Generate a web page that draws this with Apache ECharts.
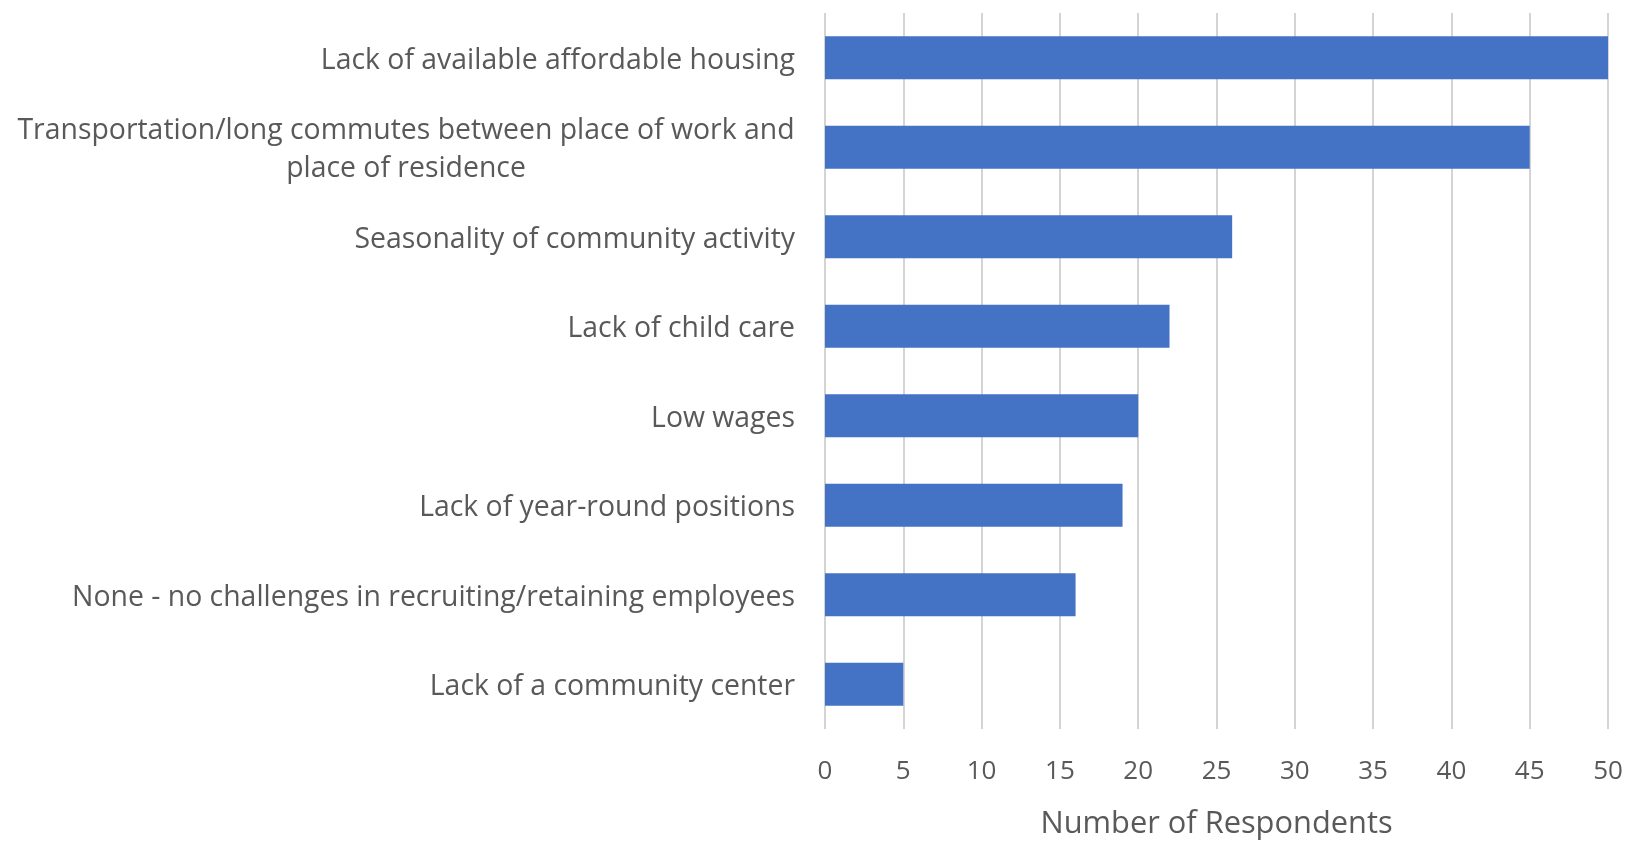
<!DOCTYPE html>
<html>
<head>
<meta charset="utf-8">
<style>
  html, body { margin: 0; padding: 0; background: #ffffff; }
  #chart { width: 1632px; height: 842px; }
</style>
<script src="https://cdn.jsdelivr.net/npm/echarts@6/dist/echarts.min.js"></script>
</head>
<body>
<div id="chart"></div>
<script>
// Challenges in recruiting/retaining employees (top to bottom)
const categories = [
  'Lack of available affordable housing',
  'Transportation/long commutes between place of work and\nplace of residence',
  'Seasonality of community activity',
  'Lack of child care',
  'Low wages',
  'Lack of year-round positions',
  'None - no challenges in recruiting/retaining employees',
  'Lack of a community center'
];
const respondents = [50, 45, 26, 22, 20, 19, 16, 5];
const axisTicks = [0, 5, 10, 15, 20, 25, 30, 35, 40, 45, 50];
const axisTitle = 'Number of Respondents';

const FONT = '"Open Sans", sans-serif';
const TEXT_COLOR = '#595959';
const LABEL_SIZE = 28.4;

// Width of the longest line of the wrapped label, so its lines centre on each other
function lineWidth(text, size) {
  const ctx = document.createElement('canvas').getContext('2d');
  ctx.font = size + 'px ' + FONT;
  return Math.ceil(ctx.measureText(text).width);
}

function draw() {
  const wrapWidth = Math.max.apply(null, categories
    .filter(c => c.indexOf('\n') >= 0)
    .map(c => Math.max.apply(null, c.split('\n').map(l => lineWidth(l, LABEL_SIZE)))));

  const chart = echarts.init(document.getElementById('chart'), null, { renderer: 'canvas' });
  chart.setOption({
    backgroundColor: '#ffffff',
    animation: false,
    grid: {
      left: 825, right: 24, top: 13, bottom: 113,
      containLabel: false,
      outerBoundsMode: 'none'
    },
    xAxis: {
      type: 'value',
      min: axisTicks[0],
      max: axisTicks[axisTicks.length - 1],
      interval: axisTicks[1] - axisTicks[0],
      name: axisTitle,
      nameLocation: 'middle',
      nameGap: 80,
      nameTextStyle: { fontFamily: FONT, fontSize: 30.8, color: TEXT_COLOR },
      axisLine: { show: false },
      axisTick: { show: false },
      axisLabel: { fontFamily: FONT, fontSize: 26, color: TEXT_COLOR, margin: 30 },
      splitLine: { show: true, lineStyle: { color: '#d4d4d4', width: 2 } }
    },
    yAxis: {
      type: 'category',
      data: categories,
      inverse: true,
      axisLine: { show: false },
      axisTick: { show: false },
      splitLine: { show: false },
      axisLabel: {
        fontFamily: FONT,
        fontSize: LABEL_SIZE,
        color: TEXT_COLOR,
        margin: 30,
        align: 'right',
        lineHeight: 38,
        padding: [6, 0, 0, 0],
        formatter: function (v) {
          if (v.indexOf('\n') < 0) return v;
          return v.split('\n').map(l => '{w|' + l + '}').join('\n');
        },
        rich: {
          w: {
            width: wrapWidth,
            align: 'center',
            fontFamily: FONT,
            fontSize: LABEL_SIZE,
            color: TEXT_COLOR,
            lineHeight: 38
          }
        }
      }
    },
    series: [{
      type: 'bar',
      data: respondents,
      barWidth: 43,
      itemStyle: { color: '#4472C4' }
    }]
  });
}

if (document.fonts && document.fonts.load) {
  document.fonts.load(LABEL_SIZE + 'px ' + FONT).then(draw, draw);
} else {
  draw();
}
</script>
</body>
</html>
